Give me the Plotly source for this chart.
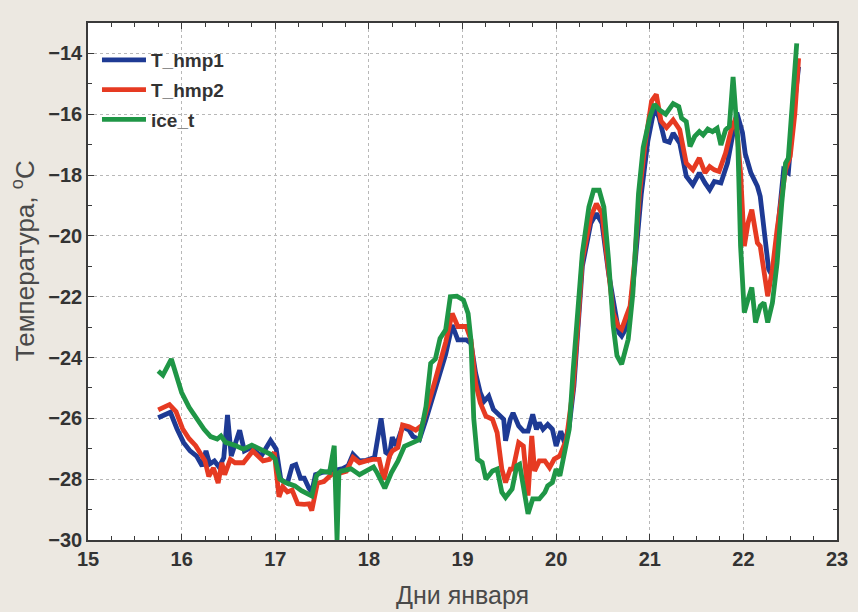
import plotly.graph_objects as go

# ---- data (days of January, temperature °C) ----
x_hmp1 = [15.75, 15.83, 15.88, 15.95, 16.02, 16.09, 16.16, 16.22, 16.26, 16.30, 16.35, 16.40, 16.45, 16.49, 16.53,
          16.62, 16.67, 16.74, 16.85, 16.95, 17.01, 17.06, 17.13, 17.18, 17.22, 17.27, 17.31, 17.36, 17.39, 17.43,
          17.50, 17.58, 17.65, 17.72, 17.78, 17.83, 17.90, 17.97, 18.06, 18.13, 18.18, 18.22, 18.25, 18.29, 18.36,
          18.43, 18.47, 18.54, 18.61, 18.71, 18.82, 18.89, 18.95, 19.04, 19.09, 19.14, 19.19, 19.23, 19.28, 19.33,
          19.39, 19.44, 19.46, 19.51, 19.54, 19.60, 19.65, 19.70, 19.75, 19.79, 19.82, 19.86, 19.91, 19.96, 20.00,
          20.05, 20.09, 20.14, 20.19, 20.23, 20.28, 20.37, 20.43, 20.49, 20.56, 20.67, 20.70, 20.74, 20.79, 20.84,
          20.91, 20.98, 21.05, 21.10, 21.16, 21.21, 21.25, 21.32, 21.39, 21.46, 21.53, 21.59, 21.64, 21.69, 21.76,
          21.83, 21.88, 21.93, 21.99, 22.02, 22.08, 22.15, 22.18, 22.22, 22.27, 22.31, 22.36, 22.43, 22.48, 22.53,
          22.59]
y_hmp1 = [-25.98, -25.89, -25.80, -26.34, -26.79, -27.07, -27.24, -27.57, -27.07, -27.50, -27.40, -27.60, -27.30,
          -25.89, -27.24, -26.39, -27.07, -26.96, -27.24, -26.73, -27.01, -28.02, -28.13, -27.57, -27.52, -27.97,
          -27.97, -28.30, -28.42, -27.85, -27.78, -27.75, -27.70, -27.65, -27.55, -27.18, -27.40, -27.38, -27.29,
          -26.00, -27.12, -27.20, -26.62, -26.90, -26.28, -26.39, -26.59, -26.70, -26.04, -25.06, -23.90, -22.93,
          -23.42, -23.42, -23.53, -24.51, -25.16, -25.44, -25.27, -25.71, -25.87, -26.03, -26.74, -26.03, -25.82,
          -26.25, -26.42, -26.42, -25.87, -26.36, -26.14, -26.36, -26.20, -26.36, -26.91, -26.42, -26.80, -26.25,
          -24.94, -23.20, -21.00, -19.59, -19.26, -19.59, -21.22, -23.18, -23.29, -23.07, -22.53, -21.00, -18.61,
          -16.87, -15.78, -16.11, -16.87, -16.92, -16.62, -16.95, -18.04, -18.32, -17.93, -18.26, -18.48, -18.21,
          -18.26, -17.61, -16.73, -15.95, -16.60, -17.30, -17.93, -18.37, -18.70, -19.79, -21.10, -21.32, -20.02,
          -17.83, -17.93, -16.08, -14.44]

x_hmp2 = [15.75, 15.87, 15.94, 16.01, 16.08, 16.15, 16.25, 16.29, 16.34, 16.39, 16.43, 16.46, 16.52, 16.57, 16.66,
          16.76, 16.87, 16.94, 16.99, 17.04, 17.08, 17.13, 17.18, 17.24, 17.31, 17.36, 17.39, 17.45, 17.52, 17.60,
          17.69, 17.76, 17.83, 17.90, 17.97, 18.04, 18.11, 18.16, 18.22, 18.25, 18.31, 18.36, 18.43, 18.50, 18.57,
          18.61, 18.71, 18.82, 18.89, 18.95, 19.04, 19.09, 19.14, 19.19, 19.25, 19.32, 19.37, 19.42, 19.46, 19.51,
          19.54, 19.60, 19.65, 19.70, 19.74, 19.77, 19.82, 19.88, 19.93, 19.98, 20.04, 20.11, 20.18, 20.23, 20.28,
          20.37, 20.43, 20.49, 20.56, 20.61, 20.66, 20.70, 20.75, 20.79, 20.84, 20.89, 20.95, 21.02, 21.07, 21.12,
          21.18, 21.25, 21.32, 21.39, 21.46, 21.53, 21.59, 21.64, 21.69, 21.74, 21.81, 21.87, 21.92, 21.97, 22.01,
          22.05, 22.09, 22.15, 22.18, 22.22, 22.26, 22.31, 22.36, 22.45, 22.50, 22.55, 22.59]
y_hmp2 = [-25.72, -25.55, -25.78, -26.34, -26.67, -26.90, -27.40, -27.91, -27.63, -28.13, -27.46, -27.85, -27.35,
          -27.46, -27.46, -27.07, -27.40, -27.35, -27.12, -28.58, -28.25, -28.42, -28.36, -28.81, -28.83, -28.81,
          -29.03, -28.13, -28.08, -27.85, -27.80, -27.74, -27.29, -27.46, -27.40, -27.35, -27.35, -28.02, -27.24,
          -27.07, -26.96, -26.22, -26.28, -26.39, -26.22, -25.83, -24.73, -23.50, -22.55, -22.98, -22.98, -23.42,
          -24.84, -25.49, -25.93, -26.03, -26.47, -27.67, -28.11, -27.67, -27.67, -26.80, -26.91, -28.54, -26.58,
          -27.73, -27.40, -27.40, -27.62, -27.34, -27.23, -26.69, -25.05, -23.00, -20.79, -19.37, -18.94, -19.26,
          -21.00, -22.53, -22.96, -23.07, -22.64, -22.31, -20.79, -18.61, -16.98, -15.56, -15.35, -16.22, -16.44,
          -16.19, -16.51, -17.61, -17.83, -17.44, -17.93, -17.72, -17.83, -17.88, -17.28, -16.51, -16.13, -17.93,
          -20.34, -19.57, -19.14, -20.23, -20.34, -21.10, -21.98, -21.10, -19.79, -17.83, -17.39, -15.97, -14.16]

x_ice = [15.75, 15.80, 15.89, 15.94, 16.00, 16.08, 16.17, 16.24, 16.31, 16.38, 16.42, 16.47, 16.58, 16.66, 16.75,
         16.86, 16.95, 17.00, 17.05, 17.11, 17.21, 17.28, 17.35, 17.39, 17.44, 17.49, 17.58, 17.63, 17.66, 17.68,
         17.70, 17.81, 17.90, 17.98, 18.05, 18.09, 18.17, 18.24, 18.31, 18.38, 18.47, 18.54, 18.61, 18.66, 18.71,
         18.76, 18.82, 18.87, 18.94, 19.01, 19.06, 19.09, 19.12, 19.16, 19.21, 19.25, 19.32, 19.37, 19.42, 19.46,
         19.53, 19.58, 19.61, 19.67, 19.70, 19.75, 19.82, 19.88, 19.91, 19.96, 20.00, 20.04, 20.09, 20.14, 20.18,
         20.23, 20.28, 20.35, 20.40, 20.46, 20.51, 20.56, 20.61, 20.65, 20.70, 20.77, 20.82, 20.88, 20.93, 21.00,
         21.05, 21.10, 21.17, 21.25, 21.31, 21.34, 21.39, 21.43, 21.48, 21.53, 21.57, 21.62, 21.67, 21.72, 21.76,
         21.81, 21.85, 21.89, 21.94, 21.97, 22.01, 22.05, 22.09, 22.13, 22.18, 22.22, 22.26, 22.31, 22.36, 22.41,
         22.45, 22.48, 22.53, 22.57]
y_ice = [-24.44, -24.58, -24.05, -24.60, -25.15, -25.64, -26.08, -26.36, -26.60, -26.68, -26.58, -26.79, -26.90,
         -27.01, -26.88, -27.07, -27.18, -27.34, -28.00, -28.11, -28.22, -28.38, -28.49, -28.55, -27.89, -27.73,
         -27.78, -26.90, -30.00, -27.80, -27.74, -27.66, -27.85, -27.70, -27.60, -27.80, -28.30, -27.79, -27.41,
         -26.92, -26.81, -26.70, -25.61, -24.19, -24.05, -23.37, -23.09, -22.00, -21.98, -22.11, -22.55, -23.42,
         -26.00, -27.34, -27.45, -28.00, -27.73, -27.67, -28.43, -28.60, -28.32, -27.56, -27.51, -28.54, -29.14,
         -28.65, -28.65, -28.43, -28.22, -28.11, -27.67, -27.89, -27.02, -26.36, -24.49, -22.42, -20.57, -19.05,
         -18.50, -18.50, -19.05, -20.79, -22.96, -23.94, -24.22, -23.40, -21.88, -18.61, -17.09, -16.11, -15.67,
         -15.85, -16.00, -15.65, -15.75, -16.13, -16.24, -17.06, -16.73, -16.57, -16.68, -16.49, -16.57, -16.46,
         -17.01, -16.51, -16.40, -14.77, -16.84, -20.34, -22.52, -22.09, -21.70, -22.85, -22.31, -22.20, -22.85,
         -22.20, -20.89, -18.92, -17.61, -17.44, -15.42, -13.67]

series_names = ["T_hmp1", "T_hmp2", "ice_t"]
series_colors = ["#1e3a94", "#e63a22", "#1f9646"]

x_ticks = [15, 16, 17, 18, 19, 20, 21, 22, 23]
y_ticks = [-30, -28, -26, -24, -22, -20, -18, -16, -14]

FONT = "Liberation Sans, Arial, sans-serif"

fig = go.Figure()
for name, xs, ys, col in zip(series_names, [x_hmp1, x_hmp2, x_ice], [y_hmp1, y_hmp2, y_ice], series_colors):
    fig.add_trace(go.Scatter(x=xs, y=ys, mode="lines", name=name, legendgroup=name,
                             line=dict(color=col, width=4.8)))

axis_common = dict(
    showline=True, linecolor="#3a3a3a", linewidth=1.5, mirror="ticks",
    ticks="inside", ticklen=6, tickwidth=1, tickcolor="#3a3a3a",
    showgrid=True, gridcolor="#b8b8b8", griddash="dot", gridwidth=1,
    zeroline=False,
    tickfont=dict(family=FONT, size=20, color="#333333", weight="bold"),
)

fig.update_xaxes(range=[15, 23], tickvals=x_ticks,
                 minor=dict(dtick=0.25, ticks="inside", ticklen=4, tickcolor="#3a3a3a", showgrid=False),
                 **axis_common)
fig.update_yaxes(range=[-30, -13], tickvals=y_ticks,
                 minor=dict(dtick=1, ticks="inside", ticklen=4, tickcolor="#3a3a3a", showgrid=False),
                 **axis_common)

fig.add_annotation(text="Дни января", xref="paper", yref="paper", x=0.5, y=-0.106,
                   xanchor="center", yanchor="middle", showarrow=False,
                   font=dict(family=FONT, size=25, color="#4a4a4a"))
fig.add_annotation(text="Температура, <sup>o</sup>C", xref="paper", yref="paper", x=-0.085, y=0.54,
                   xanchor="center", yanchor="middle", textangle=-90, showarrow=False,
                   font=dict(family=FONT, size=26, color="#4a4a4a"))

fig.update_layout(
    width=858, height=612,
    margin=dict(l=88, r=10, t=23, b=72),
    paper_bgcolor="#ece8e1", plot_bgcolor="#ffffff",
    showlegend=True,
    legend=dict(x=0.012, y=0.965, xanchor="left", yanchor="top",
                bgcolor="rgba(0,0,0,0)", tracegroupgap=2, itemwidth=44,
                font=dict(family=FONT, size=19, color="#333333", weight="bold")),
)

fig.write_html("out.html")
